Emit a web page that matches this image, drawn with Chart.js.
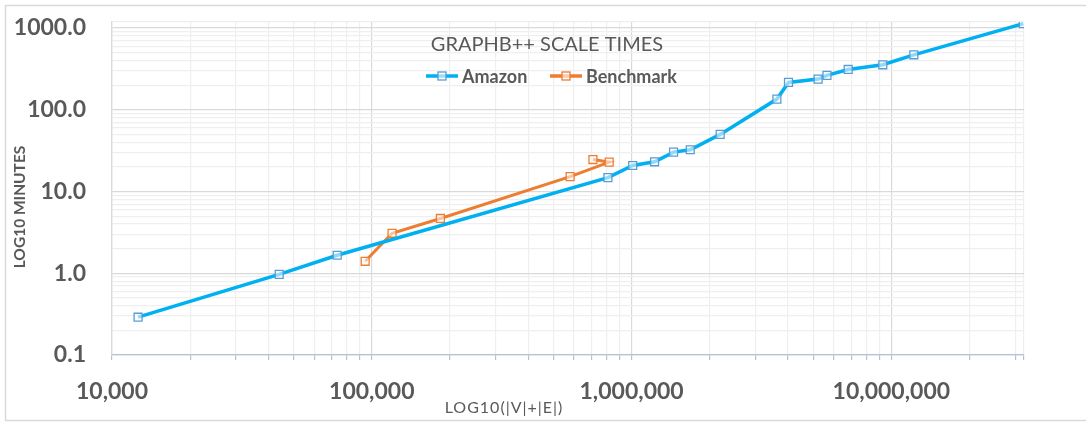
<!DOCTYPE html>
<html>
<head>
<meta charset="utf-8">
<script src="https://cdn.jsdelivr.net/npm/chart.js@4.4.1/dist/chart.umd.min.js"></script>
<style>
  html, body { margin: 0; padding: 0; background: #ffffff; }
  #wrap { width: 1086px; height: 423px; }
</style>
</head>
<body>
<div id="wrap"><canvas id="c" width="1086" height="423"></canvas></div>
<script>
// ---- data ----
const chartTitle = "GRAPHB++ SCALE TIMES";
const xAxisTitle = "LOG10(|V|+|E|)";
const yAxisTitle = "LOG10 MINUTES";
const seriesNames = ["Amazon", "Benchmark"];

const amazonX = [12600, 44000, 73600, 811000, 1010000, 1226000, 1451000, 1682000, 2193000, 3626000, 4018000, 5225000, 5650000, 6820000, 9270000, 12200000, 32200000];
const amazonY = [0.29, 0.97, 1.66, 14.8, 20.8, 23.1, 30.3, 32.4, 49.9, 135, 216, 237, 263, 311, 355, 470, 1129];

const benchX = [94300, 119700, 183700, 580000, 820000, 710000];
const benchY = [1.40, 3.08, 4.68, 15.2, 22.9, 24.6];

const xMin = 10000, xMax = 32400000;
const yMin = 0.1, yMax = 1184;
const xDecades = [4, 5, 6, 7];
const yDecades = [-1, 0, 1, 2, 3];

const colors = { amazon: "#00B0F0", amazonMarker: "#5B9BD5", bench: "#ED7D31", text: "#595959" };

function toPoints(xs, ys) { return xs.map((x, i) => ({ x: x, y: ys[i] })); }
function isDecade(v) { const l = Math.log10(v); return Math.abs(l - Math.round(l)) < 1e-9; }
function buildTicks(decades, max) {
  const t = [];
  decades.forEach(e => { for (let m = 1; m <= 9; m++) { const v = m * Math.pow(10, e); if (v <= max * 1.0000001) t.push({ value: Number(v.toPrecision(6)) }); } });
  t.push({ value: max });
  return t;
}

const frame = {
  id: 'frame',
  beforeDraw(chart) {
    const ctx = chart.ctx;
    ctx.save();
    ctx.fillStyle = '#ffffff';
    ctx.fillRect(0, 0, chart.width, chart.height);
    ctx.strokeStyle = '#d9d9d9';
    ctx.lineWidth = 1.5;
    ctx.beginPath();
    ctx.moveTo(1090, 5.5); ctx.lineTo(5.5, 5.5); ctx.lineTo(5.5, 420.5); ctx.lineTo(1090, 420.5);
    ctx.stroke();
    ctx.restore();
  },
  afterDatasetsDraw(chart) {
    const ctx = chart.ctx;
    ctx.save();
    ctx.fillStyle = colors.text;
    // chart title
    ctx.font = '400 20px Lato, "Open Sans", sans-serif';
    ctx.textAlign = 'center';
    ctx.textBaseline = 'middle';
    ctx.fillText(chartTitle, 547, 45);
    // legend
    const legendItems = [
      { name: seriesNames[0], line: colors.amazon, marker: colors.amazonMarker, x: 426 },
      { name: seriesNames[1], line: colors.bench, marker: colors.bench, x: 550 }
    ];
    ctx.font = '700 18px Lato, "Open Sans", sans-serif';
    ctx.textAlign = 'left';
    legendItems.forEach(it => {
      const y = 76;
      ctx.strokeStyle = it.line; ctx.lineWidth = 3.5;
      ctx.beginPath(); ctx.moveTo(it.x, y); ctx.lineTo(it.x + 32, y); ctx.stroke();
      ctx.fillStyle = 'rgba(255,255,255,0.6)';
      ctx.fillRect(it.x + 12, y - 4, 8, 8);
      ctx.strokeStyle = it.marker; ctx.lineWidth = 1.3;
      ctx.strokeRect(it.x + 12, y - 4, 8, 8);
      ctx.fillStyle = colors.text;
      ctx.fillText(it.name, it.x + 36, y + 1);
    });
    // axis titles
    ctx.font = '400 16px Lato, "Open Sans", sans-serif';
    ctx.textAlign = 'center';
    try { ctx.letterSpacing = '1px'; } catch (e) {}
    ctx.fillText(xAxisTitle, 504, 408);
    try { ctx.letterSpacing = '0px'; } catch (e) {}
    ctx.translate(20, 207);
    ctx.rotate(-Math.PI / 2);
    ctx.font = '700 15.5px Lato, "Open Sans", sans-serif';
    ctx.fillText(yAxisTitle, 0, 0);
    ctx.restore();
  }
};

new Chart(document.getElementById('c'), {
  type: 'scatter',
  data: {
    datasets: [
      {
        label: seriesNames[0],
        data: toPoints(amazonX, amazonY),
        showLine: true,
        borderColor: colors.amazon,
        borderWidth: 3.5,
        pointStyle: 'rect',
        pointRadius: 5.6,
        pointBorderWidth: 1.3,
        pointBorderColor: colors.amazonMarker,
        pointBackgroundColor: 'rgba(255,255,255,0.55)',
        tension: 0
      },
      {
        label: seriesNames[1],
        data: toPoints(benchX, benchY),
        showLine: true,
        borderColor: colors.bench,
        borderWidth: 3,
        pointStyle: 'rect',
        pointRadius: 5.6,
        pointBorderWidth: 1.3,
        pointBorderColor: colors.bench,
        pointBackgroundColor: 'rgba(255,255,255,0.55)',
        tension: 0
      }
    ]
  },
  options: {
    responsive: false,
    animation: false,
    devicePixelRatio: 1,
    layout: { padding: { left: 0, top: 22, right: 62, bottom: 0 } },
    plugins: { legend: { display: false }, title: { display: false }, tooltip: { enabled: false } },
    scales: {
      x: {
        type: 'logarithmic',
        min: xMin, max: xMax,
        afterBuildTicks(scale) { scale.ticks = buildTicks(xDecades, xMax); },
        afterFit(scale) { scale.height = 68; scale.paddingLeft = 0; scale.paddingRight = 0; },
        border: { color: '#b4c0d4', width: 1.3 },
        grid: {
          color: ctx => (ctx.tick && isDecade(ctx.tick.value)) ? '#d9d9d9' : '#efefef',
          lineWidth: 1.2,
          tickColor: '#b4c0d4',
          tickLength: 5,
          drawTicks: true
        },
        ticks: {
          autoSkip: false, maxRotation: 0, minRotation: 0,
          padding: 18,
          color: colors.text,
          font: { family: 'Lato, "Open Sans", sans-serif', size: 23, weight: '700' },
          callback: v => isDecade(v) ? Math.round(v).toLocaleString('en-US') : ''
        }
      },
      y: {
        type: 'logarithmic',
        min: yMin, max: yMax,
        afterBuildTicks(scale) { scale.ticks = buildTicks(yDecades, yMax); },
        afterFit(scale) { scale.width = 112; scale.paddingTop = 0; scale.paddingBottom = 0; },
        border: { color: '#d9d9d9', width: 1.3 },
        grid: {
          color: ctx => (ctx.tick && isDecade(ctx.tick.value)) ? '#d9d9d9' : '#efefef',
          lineWidth: 1.2,
          drawTicks: false
        },
        ticks: {
          autoSkip: false,
          padding: 26,
          color: colors.text,
          font: { family: 'Lato, "Open Sans", sans-serif', size: 23, weight: '700' },
          callback: v => isDecade(v) ? Number(v).toFixed(1) : ''
        }
      }
    }
  },
  plugins: [frame]
});
</script>
</body>
</html>
